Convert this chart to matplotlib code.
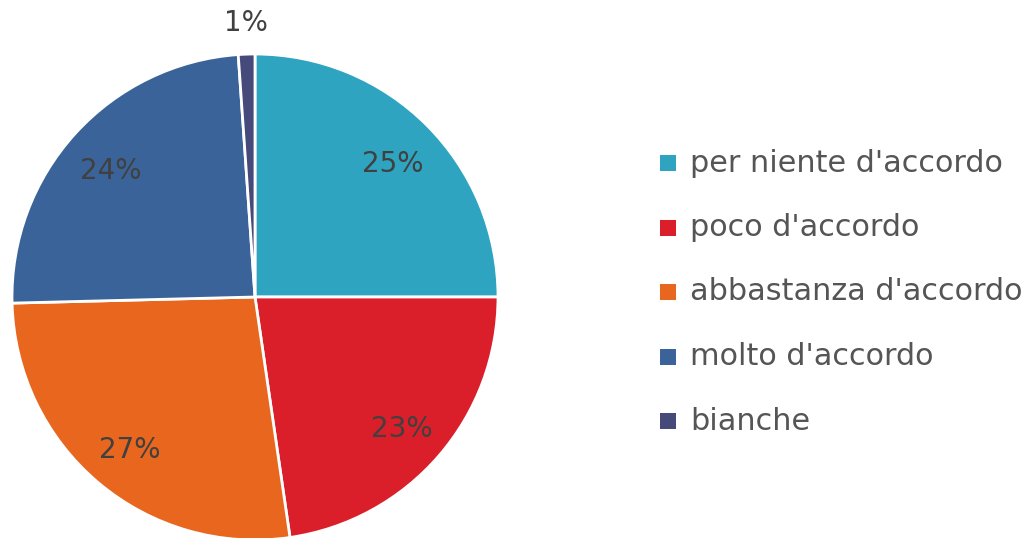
import matplotlib
matplotlib.use("Agg")
import matplotlib.pyplot as plt
from matplotlib.patches import Rectangle
import numpy as np

labels = ["per niente d'accordo", "poco d'accordo", "abbastanza d'accordo", "molto d'accordo", "bianche"]
values = [25.0, 22.7, 26.9, 24.3, 1.1]
colors = ["#2ea4c0", "#da1f2a", "#e8661e", "#3a6499", "#464a7b"]

W, H = 1032, 538
fig = plt.figure(figsize=(W / 100, H / 100), dpi=100)
cx, cy, r = 255, 297, 243
ax = fig.add_axes([(cx - r) / W, (H - cy - r) / H, 2 * r / W, 2 * r / H])

wedges, texts, autotexts = ax.pie(values, colors=colors, startangle=90, counterclock=False,
                                  autopct="%1.0f%%", pctdistance=0.8,
                                  wedgeprops=dict(edgecolor="white", linewidth=2),
                                  textprops=dict(fontsize=20, color="#404040", family="DejaVu Sans"))
ax.set_xlim(-1, 1)
ax.set_ylim(-1, 1)
ax.set_aspect("equal")

# nudge the inner labels down a little
for t in autotexts[:-1]:
    x, y = t.get_position()
    t.set_position((x, y - 0.02))

# the tiny slice gets its label outside the pie
w = wedges[-1]
ang = np.deg2rad((w.theta1 + w.theta2) / 2)
autotexts[-1].set_position((1.13 * np.cos(ang), 1.13 * np.sin(ang)))
for t in autotexts:
    t.set_clip_on(False)

# legend
y0, dy = 163, 64.5
for i, (lab, col) in enumerate(zip(labels, colors)):
    y = y0 + i * dy
    fig.add_artist(Rectangle(((660) / W, (H - y - 8) / H), 16 / W, 16 / H,
                             transform=fig.transFigure, facecolor=col, edgecolor="none"))
    fig.text(690 / W, (H - y) / H, lab, fontsize=21.8, color="#555555",
             va="center", ha="left", family="DejaVu Sans")

fig.savefig("out.png", dpi=100)
